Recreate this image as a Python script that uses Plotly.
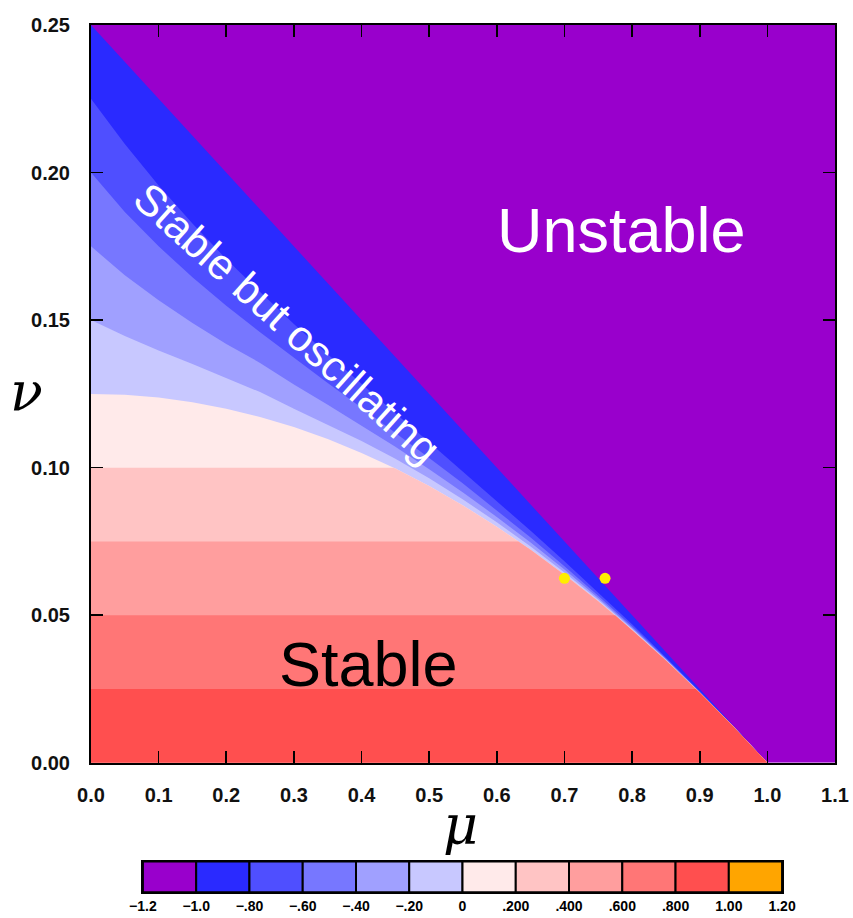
import plotly.graph_objects as go

# ---------------- data ----------------
MU = [0.00, 0.05, 0.10, 0.15, 0.20, 0.25, 0.30, 0.35, 0.40, 0.45, 0.50,
      0.55, 0.60, 0.65, 0.70, 0.75, 0.80, 0.85, 0.90, 0.95, 1.00]

# boundary between "stable" and "stable but oscillating" (level 0)
NU_LEVEL_0 = [0.12500, 0.12469, 0.12375, 0.12219, 0.12000, 0.11719, 0.11375,
              0.10969, 0.10500, 0.09969, 0.09375, 0.08719, 0.08000, 0.07219,
              0.06375, 0.05469, 0.04500, 0.03469, 0.02375, 0.01219, 0.00000]
# contour levels inside the oscillating region
NU_LEVEL_M02 = [0.1500, 0.1446, 0.1397, 0.1351, 0.1304, 0.1256, 0.1200, 0.1145,
                0.1090, 0.1030, 0.0964, 0.0892, 0.0815, 0.0733, 0.0645, 0.0552,
                0.0453, 0.0349, 0.0238, 0.01221, 0.0]
NU_LEVEL_M04 = [0.1750, 0.1652, 0.1567, 0.1490, 0.1419, 0.1355, 0.1282, 0.1213,
                0.1143, 0.1071, 0.0995, 0.0916, 0.0833, 0.0746, 0.0655, 0.0558,
                0.0457, 0.0351, 0.0239, 0.01223, 0.0]
NU_LEVEL_M06 = [0.2000, 0.1866, 0.1750, 0.1645, 0.1549, 0.1459, 0.1372, 0.1287,
                0.1203, 0.1119, 0.1033, 0.0946, 0.0856, 0.0763, 0.0666, 0.0566,
                0.0462, 0.0353, 0.0240, 0.01226, 0.0]
NU_LEVEL_M08 = [0.2250, 0.2097, 0.1956, 0.1827, 0.1707, 0.1595, 0.1487, 0.1384,
                0.1283, 0.1184, 0.1086, 0.0987, 0.0887, 0.0786, 0.0683, 0.0577,
                0.0469, 0.0357, 0.0242, 0.0123, 0.0]

# stability limit (level -1)
MU_STABILITY = [0.0, 1.0]
NU_STABILITY = [0.25, 0.0]

# horizontal bands of the stable region: top edge and where it meets level 0
STABLE_BAND_TOP = [0.100, 0.075, 0.050, 0.025]
STABLE_BAND_MU_END = [0.447, 0.632, 0.775, 0.894]

LEVELS = [-1.2, -1.0, -0.8, -0.6, -0.4, -0.2, 0.0, 0.2, 0.4, 0.6, 0.8, 1.0, 1.2]
LEVEL_LABELS = ["\u22121.2", "\u22121.0", "\u2212.80", "\u2212.60", "\u2212.40",
                "\u2212.20", "0", ".200", ".400", ".600", ".800", "1.00", "1.20"]
COLORS = ["#9900cc", "#2a2aff", "#4f4fff", "#7777ff", "#a0a0ff", "#c8c8ff",
          "#ffeaea", "#ffc4c4", "#ff9e9e", "#ff7676", "#ff4f4f", "#ffa500"]

DOT_MU = [0.70, 0.76]
DOT_NU = [0.0625, 0.0625]

X_RANGE = [0.0, 1.1]
Y_RANGE = [0.0, 0.25]
X_TICKS = [0.0, 0.1, 0.2, 0.3, 0.4, 0.5, 0.6, 0.7, 0.8, 0.9, 1.0, 1.1]
X_TICK_LABELS = ["0.0", "0.1", "0.2", "0.3", "0.4", "0.5", "0.6", "0.7",
                 "0.8", "0.9", "1.0", "1.1"]
Y_TICKS = [0.0, 0.05, 0.10, 0.15, 0.20, 0.25]
Y_TICK_LABELS = ["0.00", "0.05", "0.10", "0.15", "0.20", "0.25"]

# ---------------- figure ----------------
fig = go.Figure()


def region(xs, ys, color):
    fig.add_trace(go.Scatter(
        x=xs, y=ys, mode="lines", fill="toself", fillcolor=color,
        line=dict(width=0, color=color), hoverinfo="skip", showlegend=False,
        xaxis="x", yaxis="y"))


# unstable background
region([X_RANGE[0], X_RANGE[1], X_RANGE[1], X_RANGE[0]],
       [Y_RANGE[0], Y_RANGE[0], Y_RANGE[1], Y_RANGE[1]], COLORS[0])
# below the stability limit
region([0.0] + MU_STABILITY, [0.0] + NU_STABILITY, COLORS[1])
# oscillating-region levels and the onset curve
for nu_line, color in [(NU_LEVEL_M08, COLORS[2]), (NU_LEVEL_M06, COLORS[3]),
                       (NU_LEVEL_M04, COLORS[4]), (NU_LEVEL_M02, COLORS[5]),
                       (NU_LEVEL_0, COLORS[6])]:
    region([0.0] + MU, [0.0] + nu_line, color)
# stable horizontal bands
for top, mu_end, color in zip(STABLE_BAND_TOP, STABLE_BAND_MU_END, COLORS[7:11]):
    xs = [0.0, 0.0, mu_end]
    ys = [0.0, top, top]
    for m, n in zip(MU, NU_LEVEL_0):
        if m > mu_end:
            xs.append(m)
            ys.append(n)
    region(xs, ys, color)

# yellow points
fig.add_trace(go.Scatter(x=DOT_MU, y=DOT_NU, mode="markers",
                         marker=dict(color="#ffee00", size=11),
                         hoverinfo="skip", showlegend=False))

# colour bar drawn as a row of boxes on its own axis
mids = [(LEVELS[i] + LEVELS[i + 1]) / 2 for i in range(len(COLORS))]
fig.add_trace(go.Bar(x=mids, y=[1] * len(COLORS), width=0.2,
                     marker=dict(color=COLORS, line=dict(color="black", width=2)),
                     hoverinfo="skip", showlegend=False,
                     xaxis="x2", yaxis="y2"))

W, H = 853, 918
ML, MR, MT, MB = 91, 17, 25, 4
plot_h = H - MT - MB
plot_w = W - ML - MR
main_bottom = (H - MB - 772) / plot_h


def px_x(x):
    return (x - ML) / plot_w


def px_y(y):
    return (H - MB - y) / plot_h


axis_common = dict(showgrid=False, zeroline=False, showline=True,
                   linecolor="black", linewidth=2, mirror="ticks",
                   ticks="inside", ticklen=12, tickwidth=1.6, tickcolor="black",
                   tickfont=dict(family="Liberation Sans", size=20,
                                 color="#111111", weight="bold"))

fig.update_layout(
    width=W, height=H,
    margin=dict(l=ML, r=MR, t=MT, b=MB),
    paper_bgcolor="white", plot_bgcolor="white",
    showlegend=False,
    xaxis=dict(range=X_RANGE, tickvals=X_TICKS, ticktext=X_TICK_LABELS,
               domain=[0, 1], anchor="y", ticklabelstandoff=13, **axis_common),
    yaxis=dict(range=Y_RANGE, tickvals=Y_TICKS, ticktext=Y_TICK_LABELS,
               domain=[main_bottom, 1], anchor="x", ticklabelstandoff=15,
               **axis_common),
    xaxis2=dict(range=[LEVELS[0], LEVELS[-1]], tickvals=LEVELS,
                ticktext=LEVEL_LABELS, anchor="y2",
                domain=[px_x(143), px_x(783)],
                showgrid=False, zeroline=False, showline=True, mirror=True,
                linecolor="black", linewidth=2, ticks="", ticklabelstandoff=0,
                tickfont=dict(family="Liberation Sans", size=14, color="black",
                              weight="bold")),
    yaxis2=dict(range=[0, 1], anchor="x2", showticklabels=False, ticks="",
                showgrid=False, zeroline=False, showline=True, mirror=True,
                linecolor="black", linewidth=2,
                domain=[px_y(903), px_y(872)]),
    bargap=0,
)

fig.add_annotation(x=0.785, y=0.1807, xref="x", yref="y", text="Unstable",
                   showarrow=False, font=dict(family="Liberation Sans", size=63,
                                              color="white"))
fig.add_annotation(x=0.411, y=0.0335, xref="x", yref="y", text="Stable",
                   showarrow=False, font=dict(family="Liberation Sans", size=63,
                                              color="black"))
fig.add_annotation(x=0.290, y=0.1490, xref="x", yref="y",
                   text="Stable but oscillating", textangle=42,
                   showarrow=False, font=dict(family="Liberation Sans", size=43,
                                              color="white"))
fig.add_annotation(x=px_x(461), y=px_y(836), xref="paper", yref="paper",
                   xanchor="center", yanchor="middle", text="<i>\u03bc</i>",
                   showarrow=False, font=dict(family="DejaVu Serif", size=54,
                                              color="black"))
fig.add_annotation(x=px_x(26), y=px_y(396), xref="paper", yref="paper",
                   xanchor="center", yanchor="middle", text="<i>\u03bd</i>",
                   showarrow=False, font=dict(family="DejaVu Serif", size=54,
                                              color="black"))

fig.write_html(
    "out.html",
    config={"displayModeBar": False, "staticPlot": True},
    post_script=(
        "document.documentElement.style.margin='0px';"
        "document.body.style.margin='0px';"
        "document.body.style.overflow='hidden';"
        "var d=document.getElementById('{plot_id}');"
        "d.style.position='fixed';d.style.top='0px';d.style.left='0px';"
    ),
)
